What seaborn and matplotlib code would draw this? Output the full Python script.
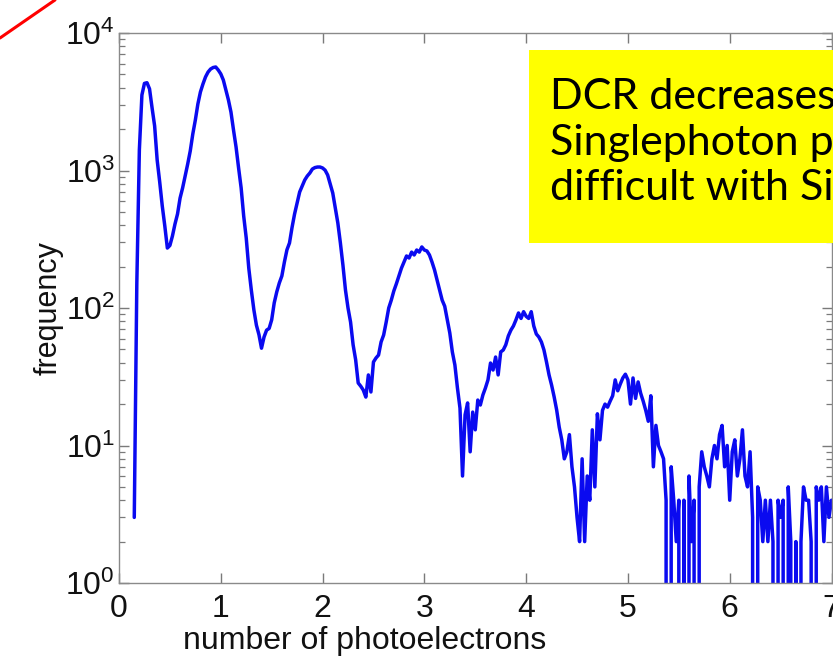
import numpy as np
import pandas as pd
import matplotlib
matplotlib.use("Agg")
import matplotlib.pyplot as plt
import seaborn as sns
from matplotlib.patches import Rectangle
from matplotlib.lines import Line2D
from matplotlib.ticker import LogLocator, FixedLocator

# ---- data ----
bin_start = 0.15
bin_width = 0.025
counts = [
    3, 150, 1410, 3540, 4300, 4350, 3920, 2850, 2110, 1190,
    824, 552, 395, 273, 285, 334, 408, 483, 630, 747,
    914, 1115, 1387, 1842, 2328, 3047, 3725, 4260, 4790, 5200,
    5470, 5610, 5660, 5380, 5040, 4550, 3850, 3260, 2660, 1970,
    1482, 1043, 747, 467, 323, 195, 135, 97, 75, 64,
    51, 61.5, 69, 71, 82, 109, 131, 152, 171, 216,
    265, 297, 385, 483, 581, 698, 771, 853, 912, 959,
    1025, 1050, 1060, 1060, 1043, 1005, 927, 797, 686, 533,
    415, 297, 205, 135, 100, 79, 54, 42, 28.5, 27,
    25.3, 22.5, 32.6, 24.5, 40.5, 43.3, 45.5, 56.6, 63.6, 79,
    100, 114, 133, 150, 171, 195, 216, 239, 231, 255,
    243, 264, 255, 278, 264, 260, 243, 216, 189, 160,
    135, 114, 103, 82, 65.8, 47.9, 38.5, 26.2, 18.7, 6,
    16.7, 20.4, 9, 17.5, 13, 21.4, 19.7, 23.3, 26.2, 30,
    39.8, 35.4, 44, 32.6, 47.9, 49.5, 54, 62.6, 69, 74,
    82, 92, 84, 94, 87, 84, 94, 74, 64.7, 61.5,
    56.6, 49.5, 40.5, 32.6, 27.5, 22.6, 18.1, 13.6, 11, 8,
    9, 12, 7, 5, 3, 2, 8, 2, 6, 4,
    13, 5, 17, 11, 18, 20, 19, 21, 23, 30,
    25, 28, 31, 33, 30, 20, 31, 22, 29, 24,
    21, 18, 15, 23, 7, 14, 10, 9, 8, 4,
    0, 7, 4, 2, 4, 0, 4, 0, 6, 2,
    4, 0, 5, 9, 7, 6, 5, 8, 10, 8,
    12, 14, 7, 10, 4, 9, 11, 6, 8, 13,
    6, 5, 9, 3, 0, 5, 4, 2, 4, 2,
    4, 2, 0, 4, 3, 4, 0, 5, 2, 0,
    2, 0, 2, 5, 4, 4, 2, 0, 5, 4,
    5, 2, 5, 3, 4,
]
photoelectrons = bin_start + bin_width * np.arange(len(counts))

x_ticks = [0, 1, 2, 3, 4, 5, 6, 7]
y_ticks = [1, 10, 100, 1000, 10000]
x_label = "number of photoelectrons"
y_label = "frequency"
note_lines = ["DCR decreases", "Singlephoton p", "difficult with Si"]

df = pd.DataFrame({"photoelectrons": photoelectrons, "frequency": counts})

# ---- styling ----
sns.set_theme(style="white")
plt.rcParams["font.family"] = ["Liberation Sans", "DejaVu Sans"]
plt.rcParams["mathtext.fontset"] = "custom"
plt.rcParams["mathtext.rm"] = "Liberation Sans"
plt.rcParams["mathtext.it"] = "Liberation Sans"
plt.rcParams["mathtext.bf"] = "Liberation Sans"

W, H = 833, 664
fig = plt.figure(figsize=(W / 100, H / 100), dpi=100)
fig.patch.set_facecolor("white")
ax_w = (831.5 - 119) / W
ax_h = (583 - 33) / H
ax = fig.add_axes([119 / W, 1 - 583 / H, ax_w, ax_h])

sns.lineplot(data=df, x="photoelectrons", y="frequency", ax=ax,
             estimator=None, sort=False, color="#0a0af0", linewidth=2.5)

ax.set_yscale("log")
ax.set_xlim(0, 7)
ax.set_ylim(1, 1e4)
ax.xaxis.set_major_locator(FixedLocator(x_ticks))
ax.yaxis.set_major_locator(FixedLocator(y_ticks))
ax.yaxis.set_minor_locator(LogLocator(base=10, subs=np.arange(2, 10)))

ax.tick_params(axis="both", which="both", direction="in",
               top=True, right=True, bottom=True, left=True,
               color="#7a7a7a", labelsize=23, labelcolor="#111111")
ax.tick_params(axis="both", which="major", length=7, width=1)
ax.tick_params(axis="y", which="minor", length=4, width=0.9)
ax.tick_params(axis="x", which="major", pad=8)
ax.tick_params(axis="y", which="major", pad=3)

for s in ax.spines.values():
    s.set_color("#8a8a8a")
    s.set_linewidth(1.0)

ax.set_xlabel(x_label, fontsize=23, color="#111111")
ax.set_ylabel(y_label, fontsize=22, color="#111111")
ax.xaxis.set_label_coords((365 - 119) / (831.5 - 119), -(626 - 583) / (583 - 33))
ax.yaxis.set_label_coords(-(119 - 64) / (831.5 - 119), 0.5)

# yellow annotation box (partly cut off at the right edge, as in the reference)
fig.add_artist(Rectangle((529 / W, 1 - 243 / H), 0.5, 193 / H,
                         transform=fig.transFigure, facecolor="#ffff00",
                         edgecolor="none", zorder=5))
for i, line in enumerate(note_lines):
    fig.text(550 / W, 1 - (109 + 45.5 * i) / H, line, fontsize=31,
             family=["Lato", "DejaVu Sans"], color="black",
             va="baseline", ha="left", zorder=6)

# red stroke in the top-left corner
fig.add_artist(Line2D([0, 55 / W], [1 - 38 / H, 1.0], transform=fig.transFigure,
                      color="#ff0000", linewidth=2.2, zorder=6))

fig.savefig("out.png", dpi=100)
